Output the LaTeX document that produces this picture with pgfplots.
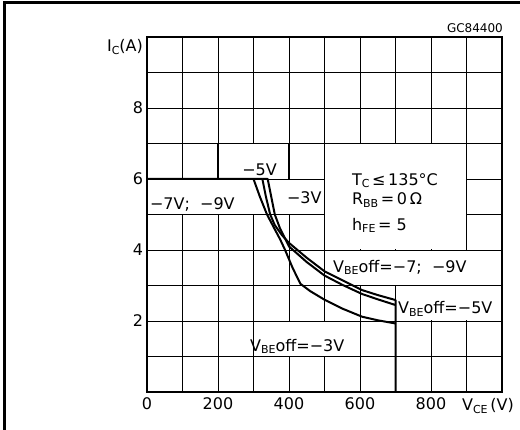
\documentclass[border=0pt]{standalone}
\usepackage{fontspec}
\setmainfont{DejaVu Sans}
\usepackage{pgfplots}
\pgfplotsset{compat=1.18}
\newcommand\fs{\fontsize{16}{19}\selectfont}
\newcommand\sub[1]{\raisebox{-2.5pt}{\fontsize{11}{12}\selectfont #1}}
\begin{document}
\begin{tikzpicture}
\useasboundingbox (0pt,0pt) rectangle (520pt,430pt);
\draw[line width=3pt] (4.5pt,0pt) -- (4.5pt,427.5pt) -- (520pt,427.5pt);
\begin{axis}[at={(147pt,38pt)}, anchor=south west, scale only axis,
  width=355pt, height=355pt,
  xmin=0, xmax=1000, ymin=0, ymax=10,
  xtick={0,200,400,600,800}, minor xtick={100,300,500,700,900},
  ytick={2,4,6,8}, minor ytick={1,3,5,7,9},
  grid=both,
  major grid style={black, line width=0.9pt},
  minor grid style={black, line width=0.9pt},
  major tick length=0pt, minor tick length=0pt,
  axis line style={line width=2pt},
  tick label style={font=\fs, inner sep=0pt, outer sep=0pt},
  /pgf/number format/assume math mode=true,
  xticklabel style={yshift=-6pt},
  yticklabel style={xshift=-4pt},
  clip=false,
]
% white label boxes
\fill[white] (axis cs:202,6.02) rectangle (axis cs:398,6.98);
\fill[white] (axis cs:3,5.02) rectangle (axis cs:300,5.98);
\fill[white] (axis cs:375,5.02) rectangle (axis cs:498,5.98);
\fill[white] (axis cs:502,4.02) rectangle (axis cs:898,6.98);
\fill[white] (axis cs:502,3.02) rectangle (axis cs:997,3.98);
\fill[white] (axis cs:702,2.02) rectangle (axis cs:997,2.98);
\fill[white] (axis cs:302,1.02) rectangle (axis cs:598,1.98);
% thicker box lines
\draw[line width=1.8pt] (axis cs:0,7) -- (axis cs:800,7);
\draw[line width=1.8pt] (axis cs:200,6) -- (axis cs:200,7);
\draw[line width=1.8pt] (axis cs:400,6) -- (axis cs:400,7);
% labels
\node[font=\fs, anchor=base west, inner sep=0pt] at (axis cs:268,6.11) {−5V};
\node[font=\fs, anchor=base west, inner sep=0pt] at (axis cs:8,5.13) {−7V;\ \ −9V};
\node[font=\fs, anchor=base west, inner sep=0pt] at (axis cs:394,5.32) {−3V};
\node[font=\fs, anchor=base west, inner sep=0pt] at (axis cs:577,5.83) {T\sub{C}\,≤\,135°C};
\node[font=\fs, anchor=base west, inner sep=0pt] at (axis cs:577,5.27) {R\sub{BB}\,=\,0\,Ω};
\node[font=\fs, anchor=base west, inner sep=0pt] at (axis cs:577,4.56) {h\sub{FE}\,=\ 5};
\node[font=\fs, anchor=base west, inner sep=0pt] at (axis cs:524,3.38) {V\sub{BE}off=−7;\ \ −9V};
\node[font=\fs, anchor=base west, inner sep=0pt] at (axis cs:707,2.2) {V\sub{BE}off=−5V};
\node[font=\fs, anchor=base west, inner sep=0pt] at (axis cs:290,1.15) {V\sub{BE}off=−3V};
\node[font=\fontsize{12}{14}\selectfont, anchor=base east, inner sep=0pt] at (axis cs:1003,10.12) {GC84400};
\node[font=\fs, anchor=base east, inner sep=0pt] at (axis cs:-11,9.58) {I\sub{C}(A)};
\node[font=\fs, anchor=base west, inner sep=0pt] at (axis cs:887,-0.535) {V\sub{CE}\,(V)};
% curves
\addplot[black, line width=2pt, line join=round] coordinates {
 (0,6) (325,6) (335,5.5) (347,5.0) (360,4.7) (380,4.42) (400,4.2) (450,3.78) (500,3.4) (550,3.15) (606,2.87) (650,2.73) (700,2.59) (700,0)};
\addplot[black, line width=2pt, line join=round] coordinates {
 (325,6) (340,6) (350,5.5) (360,5.0) (375,4.6) (400,4.1) (450,3.66) (500,3.28) (550,3.02) (606,2.76) (650,2.61) (700,2.45)};
\addplot[black, line width=2pt, line join=round] coordinates {
 (300,6) (318,5.5) (338,5.0) (358,4.62) (375,4.3) (389,4.0) (410,3.5) (432,3.05) (460,2.84) (500,2.6) (550,2.35) (606,2.12) (650,2.02) (700,1.93)};
\end{axis}
\end{tikzpicture}
\end{document}
